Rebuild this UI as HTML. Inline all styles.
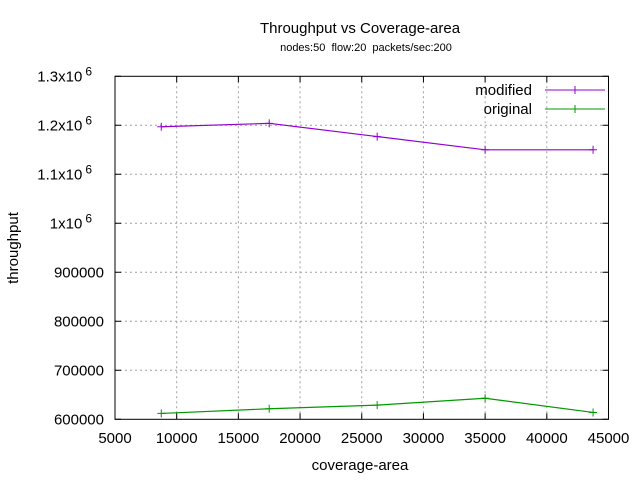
<!DOCTYPE html>
<html><head><meta charset="utf-8"><style>
body{margin:0;background:#fff}
svg text{font-family:"Liberation Sans",sans-serif;fill:#000}
</style></head><body>
<svg id="chart" width="640" height="480" xmlns="http://www.w3.org/2000/svg">
<rect width="640" height="480" fill="#fff"/>
<text x="360" y="33" font-size="15" text-anchor="middle">Throughput vs Coverage-area</text>
<text x="366" y="51" font-size="11" text-anchor="middle" style="white-space:pre">nodes:50  flow:20  packets/sec:200</text>
<g id="grid"></g><g id="axes"></g><g id="series"></g>
<text x="360" y="470" font-size="15" text-anchor="middle">coverage-area</text>
<text transform="translate(18,248) rotate(-90)" font-size="15" text-anchor="middle">throughput</text>
<g>
<text x="532" y="95" font-size="15" text-anchor="end">modified</text>
<line x1="545" y1="90" x2="605" y2="90" stroke="#9400d3" stroke-width="1"/>
<path d="M575 86V94M571 90H579" stroke="#9400d3"/>
<text x="532" y="114" font-size="15" text-anchor="end">original</text>
<line x1="545" y1="109" x2="605" y2="109" stroke="#009900" stroke-width="1"/>
<path d="M575 105V113M571 109H579" stroke="#009900"/>
</g>
</svg>
<script>
const xValues=[8750,17500,26250,35000,43750];
const modifiedValues=[1197000,1204000,1177000,1150000,1150000];
const originalValues=[612000,621500,629000,643000,614000];
const xTicks=[5000,10000,15000,20000,25000,30000,35000,40000,45000];
const yTicks=[600000,700000,800000,900000,1000000,1100000,1200000,1300000];
const yTickLabels=["600000","700000","800000","900000","1x10^6","1.1x10^6","1.2x10^6","1.3x10^6"];
const L=115,R=608.5,T=76.3,B=419.3;
const NS="http://www.w3.org/2000/svg";
const sx=v=>L+(v-5000)/40000*(R-L);
const sy=v=>B-(v-600000)/700000*(B-T);
const g=document.getElementById('grid'),a=document.getElementById('axes'),s=document.getElementById('series');
function mk(tag,attrs,parent){const e=document.createElementNS(NS,tag);for(const k in attrs)e.setAttribute(k,attrs[k]);parent.appendChild(e);return e;}
xTicks.forEach((t,i)=>{
 const x=sx(t);
 if(i>0&&i<xTicks.length-1){const l=mk('line',{x1:x,x2:x,y1:T,y2:B,stroke:'#a0a0a0','stroke-dasharray':'2,3'},g);
 
 }
 const tk=mk('path',{d:`M${x} ${B}v-6M${x} ${T}v6`,stroke:'#000'},a);
 
 
 const tx=mk('text',{x:x,y:443,'font-size':15,'text-anchor':'middle'},a);tx.textContent=t;
 
 
});
yTicks.forEach((t,i)=>{
 const y=sy(t);
 if(i>0&&i<yTicks.length-1){const l=mk('line',{x1:L,x2:R,y1:y,y2:y,stroke:'#a0a0a0','stroke-dasharray':'2,3'},g);
 
 }
 const tk=mk('path',{d:`M${L} ${y}h6M${R} ${y}h-6`,stroke:'#000'},a);
 
 
 const lab=yTickLabels[i];
 const tx=mk('text',{x:104,y:y+5,'font-size':15,'text-anchor':'end'},a);
 
 
 if(lab.includes('^')){const [b,e]=lab.split('^');tx.setAttribute('x',92);tx.textContent=b;
  const sup=mk('tspan',{dx:3,dy:-6,'font-size':12},tx);sup.textContent=e;}
 else tx.textContent=lab;
});
const box=mk('rect',{x:L,y:T,width:R-L,height:B-T,fill:'none',stroke:'#000'},a);


[[modifiedValues,'#9400d3','modified'],[originalValues,'#009900','original']].forEach(([vals,col,nm])=>{
 const p=xValues.map((x,i)=>[sx(x),sy(vals[i])]);
 const path=mk('polyline',{points:p.map(q=>q.join(',')).join(' '),fill:'none',stroke:col,'stroke-width':1.2},s);
 
 
 p.forEach(([x,y])=>{
  const m=mk('path',{d:`M${x} ${y-4}v8M${x-4} ${y}h8`,stroke:col},s);
  
  
 });
});
</script>
</body></html>
